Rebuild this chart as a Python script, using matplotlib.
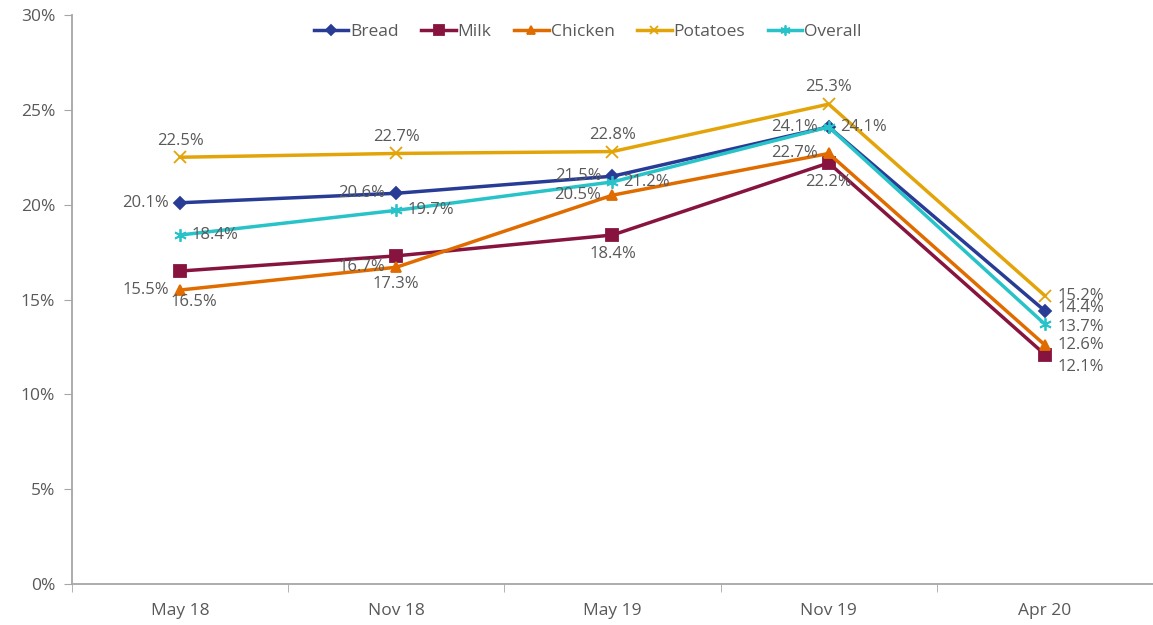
import numpy as np
import matplotlib.pyplot as plt

plt.rcParams['font.family'] = ['Open Sans', 'DejaVu Sans']

# Data
periods = ["May 18", "Nov 18", "May 19", "Nov 19", "Apr 20"]
bread = [20.1, 20.6, 21.5, 24.1, 14.4]
milk = [16.5, 17.3, 18.4, 22.2, 12.1]
chicken = [15.5, 16.7, 20.5, 22.7, 12.6]
potatoes = [22.5, 22.7, 22.8, 25.3, 15.2]
overall = [18.4, 19.7, 21.2, 24.1, 13.7]

grey = '#595959'
x = np.arange(len(periods))

fig = plt.figure(figsize=(11.53, 6.25), dpi=100)
ax = fig.add_axes([0.0624, 0.0656, 0.9376, 0.9104])

# label placement per point: offset in points (dx, dy), ha
left = ((-8, 0), 'right')
right = ((8, 0), 'left')
above = ((0, 12), 'center')
below = ((0, -14), 'center')

series = [
    ("Bread", bread, '#283C96', 'D', 6, [left, left, left, left, ((9, 2), 'left')]),
    ("Milk", milk, '#87133F', 's', 9, [((10, -22), 'center'), ((0, -20), 'center'), below, below, ((9, -9), 'left')]),
    ("Chicken", chicken, '#E06C00', '^', 7, [left, left, left, left, ((9, 0), 'left')]),
    ("Potatoes", potatoes, '#E3A40A', 'x', 8, [above, above, above, above, ((9, 0), 'left')]),
    ("Overall", overall, '#27C3C8', (6, 2, 0), 9, [right, right, right, right, ((9, -2), 'left')]),
]

for name, vals, col, mk, ms, pos in series:
    ax.plot(x, vals, color=col, lw=2.5, marker=mk, markersize=ms,
            markeredgewidth=1.3, label=name)
    for xi, v, ((dx, dy), ha) in zip(x, vals, pos):
        ax.annotate(f"{v:.1f}%", (xi, v), xytext=(dx, dy), textcoords='offset points',
                    ha=ha, va='center', color=grey, fontsize=12)

ax.set_ylim(0, 30)
ax.set_xlim(-0.5, 4.47)
ax.set_yticks(np.arange(0, 31, 5))
ax.set_yticklabels([f"{t}%" for t in range(0, 31, 5)])
ax.set_xticks(x)
ax.set_xticklabels(periods)
ax.set_xticks(np.arange(-0.5, 4.6, 1), minor=True)
ax.tick_params(axis='x', which='major', length=0, pad=14, labelsize=12.5, colors=grey)
ax.tick_params(axis='x', which='minor', length=6, color='#A6A6A6', direction='out')
ax.tick_params(axis='y', length=6, color='#A6A6A6', labelsize=12.5, colors=grey, pad=6)
for s in ['top', 'right']:
    ax.spines[s].set_visible(False)
for s in ['left', 'bottom']:
    ax.spines[s].set_color('#A6A6A6')
    ax.spines[s].set_linewidth(1.3)

leg = ax.legend(loc='upper center', bbox_to_anchor=(0.477, 1.012), ncol=5, frameon=False,
                fontsize=12.5, handlelength=2.0, handletextpad=0.1, columnspacing=1.3,
                markerscale=0.8)
for t in leg.get_texts():
    t.set_color(grey)

fig.savefig("out.png", dpi=100)
